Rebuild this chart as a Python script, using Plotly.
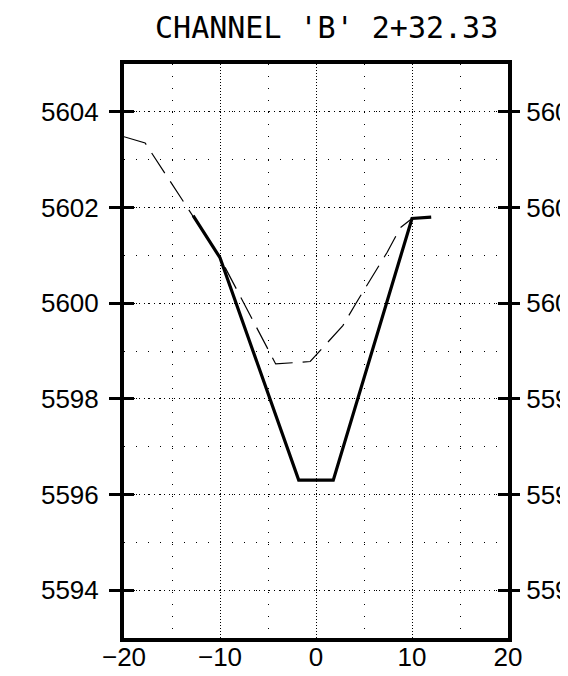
import plotly.graph_objects as go

# Data
design_x = [-12.8, -10.0, -1.8, 1.8, 10.0, 12.0]
design_y = [5601.83, 5600.95, 5596.3, 5596.3, 5601.77, 5601.8]

ground_x = [-20.0, -17.8, -10.0, -4.2, -0.6, 2.0, 2.8, 4.2, 7.4, 8.8, 9.45, 10.0]
ground_y = [5603.48, 5603.35, 5600.95, 5598.73, 5598.78, 5599.35, 5599.53,
            5600.01, 5601.06, 5601.58, 5601.69, 5601.77]

x_ticks = [-20, -10, 0, 10, 20]
y_ticks = [5594, 5596, 5598, 5600, 5602, 5604]
x_range = [-20, 20]
y_range = [5593, 5605]
title_text = "CHANNEL 'B' 2+32.33"

fig = go.Figure()
fig.add_trace(go.Scatter(x=ground_x, y=ground_y, mode="lines",
                         line=dict(color="black", width=1.2, dash="24px,10px"),
                         showlegend=False, hoverinfo="skip"))
fig.add_trace(go.Scatter(x=design_x, y=design_y, mode="lines",
                         line=dict(color="black", width=3.2),
                         showlegend=False, hoverinfo="skip"))

tick_font = dict(family="Liberation Sans, Arial, sans-serif", size=26, color="black")

fig.update_layout(
    template="none",
    width=560, height=668,
    margin=dict(l=116, r=60, t=56, b=38, autoexpand=False),
    paper_bgcolor="white", plot_bgcolor="white",
    title=dict(text=title_text, x=0.569, xref="container", xanchor="center",
               y=0.986, yref="container", yanchor="top",
               font=dict(family="DejaVu Sans Mono, monospace", size=30, color="black")),
    xaxis=dict(range=x_range, tickvals=x_ticks, ticks="", ticklen=0, showline=True,
               linewidth=4, linecolor="black", mirror=True, zeroline=False,
               showgrid=True, gridcolor="black", gridwidth=1, griddash="1px,2px",
               minor=dict(dtick=5, showgrid=True, gridcolor="black",
                          gridwidth=1, griddash="1px,11px"),
               tickfont=tick_font, ticklabelstandoff=-7, automargin=False),
    yaxis=dict(range=y_range, tickvals=y_ticks, ticks="outside", ticklen=11,
               tickwidth=2.5, tickcolor="black", showline=True, linewidth=4,
               linecolor="black", mirror=True, zeroline=False,
               showgrid=True, gridcolor="black", gridwidth=1, griddash="1px,4px",
               minor=dict(dtick=1, showgrid=True, gridcolor="black",
                          gridwidth=1, griddash="1px,11px"),
               tickfont=tick_font, ticklabelstandoff=5, automargin=False),
    yaxis2=dict(range=y_range, tickvals=y_ticks, overlaying="y", side="right",
                ticks="outside", ticklen=11, tickwidth=2.5, tickcolor="black",
                showgrid=False, zeroline=False, tickfont=tick_font,
                ticklabelstandoff=1, automargin=False),
    yaxis3=dict(range=y_range, tickvals=y_ticks, overlaying="y", side="left",
                ticks="inside", ticklen=10, tickwidth=2.5, tickcolor="black",
                showticklabels=False, showgrid=False, zeroline=False, automargin=False),
    yaxis4=dict(range=y_range, tickvals=y_ticks, overlaying="y", side="right",
                ticks="inside", ticklen=10, tickwidth=2.5, tickcolor="black",
                showticklabels=False, showgrid=False, zeroline=False, automargin=False),
)

# invisible traces to activate the overlay axes
for ya in ["y2", "y3", "y4"]:
    fig.add_trace(go.Scatter(x=[None], y=[None], yaxis=ya, mode="lines",
                             showlegend=False, hoverinfo="skip"))

fig.write_html("out.html")
